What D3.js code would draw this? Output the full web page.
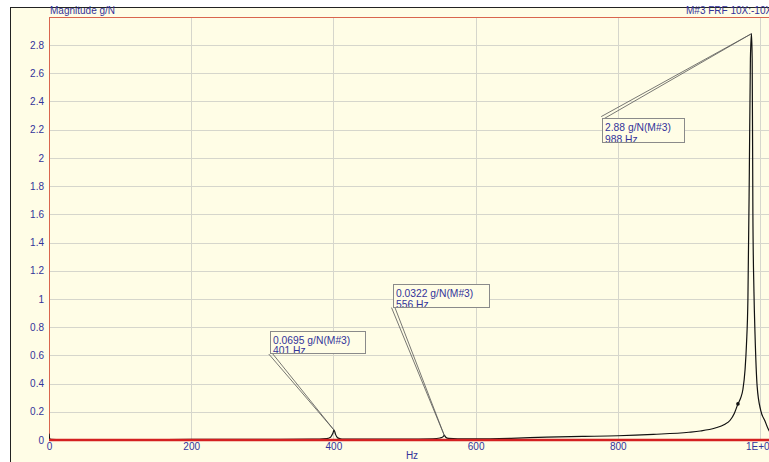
<!DOCTYPE html>
<html>
<head>
<meta charset="utf-8">
<script src="https://cdn.jsdelivr.net/npm/d3@7"></script>
<style>
  html, body { margin: 0; padding: 0; background: #ffffff; overflow: hidden; }
  text { font-family: "Liberation Sans", Arial, sans-serif; }
</style>
</head>
<body>
<svg id="chart" width="769" height="462"></svg>
<script>
// FRF magnitude trace (black)
const freq = [0, 1, 3, 10, 50, 100, 200, 300, 370, 390, 396, 399, 401, 403, 406, 412, 430, 500, 540, 550, 554, 556, 558, 562, 575, 600, 650, 700, 750, 800, 850, 900, 916, 937, 950, 958, 964, 969, 973, 976, 979, 981, 983, 985, 986.5, 988, 989, 990, 991.5, 993, 996, 1001, 1007, 1013, 1016];
const mag  = [0.045, 0.01, 0.004, 0.003, 0.003, 0.003, 0.004, 0.005, 0.006, 0.01, 0.02, 0.045, 0.0695, 0.04, 0.015, 0.007, 0.006, 0.006, 0.008, 0.014, 0.022, 0.0322, 0.02, 0.011, 0.008, 0.008, 0.012, 0.02, 0.025, 0.03, 0.04, 0.055, 0.064, 0.085, 0.11, 0.14, 0.19, 0.256, 0.3, 0.36, 0.5, 0.68, 1.0, 1.9, 2.7, 2.88, 2.7, 1.6, 1.05, 0.75, 0.38, 0.21, 0.135, 0.064, 0.05];

// second trace (red), flat on zero
const redFreq = [0, 1016];
const redMag  = [0, 0];

// peak markers
const markFreq = [401, 556, 988];
const markMag  = [0.0695, 0.0322, 2.88];
const markLine1 = ["0.0695 g/N(M#3)", "0.0322 g/N(M#3)", "2.88 g/N(M#3)"];
const markLine2 = ["401 Hz", "556 Hz", "988 Hz"];

// axes
const xTicks = [0, 200, 400, 600, 800, 1000];
const xTickLabels = ["0", "200", "400", "600", "800", "1E+03"];
const yTicks = [0, 0.2, 0.4, 0.6, 0.8, 1, 1.2, 1.4, 1.6, 1.8, 2, 2.2, 2.4, 2.6, 2.8];

// label box placement (pixels) and which corner the leader leaves from
const boxes = [
  { x: 270, y: 331, w: 95, h: 22, corner: "bl" },
  { x: 393, y: 284, w: 96, h: 23, corner: "bl" },
  { x: 602, y: 118, w: 82, h: 24, corner: "tl" }
];

const blue = "#33339a";
const cream = "#fffde6";
const plotLeft = 49, plotTop = 17, plotBottom = 440, plotRight = 769;

const svg = d3.select("#chart");

const x = d3.scaleLinear().domain([0, 1000]).range([plotLeft, 760]);
const y = d3.scaleLinear().domain([0, 3]).range([plotBottom, plotBottom - 3 * 141.07]);

// outer frame
svg.append("rect")
  .attr("x", 10.5).attr("y", 7.5)
  .attr("width", 800).attr("height", 500)
  .attr("fill", cream).attr("stroke", "#222").attr("stroke-width", 1);

// grid
svg.append("g")
  .selectAll("line")
  .data(yTicks.filter(d => d > 0))
  .enter()
  .append("line")
  .attr("x1", plotLeft).attr("x2", plotRight)
  .attr("y1", d => Math.round(y(d)) + 0.5)
  .attr("y2", d => Math.round(y(d)) + 0.5)
  .attr("stroke", "#d6d6cc");

svg.append("g")
  .selectAll("line")
  .data(xTicks.filter(d => d > 0))
  .enter()
  .append("line")
  .attr("x1", d => Math.round(x(d)) + 0.5)
  .attr("x2", d => Math.round(x(d)) + 0.5)
  .attr("y1", plotTop).attr("y2", plotBottom)
  .attr("stroke", "#d6d6cc");

// plot frame (red)
svg.append("line")
  .attr("x1", plotLeft).attr("x2", plotRight)
  .attr("y1", plotTop + 0.5).attr("y2", plotTop + 0.5)
  .attr("stroke", "#d9654e");
svg.append("line")
  .attr("x1", plotLeft + 0.5).attr("x2", plotLeft + 0.5)
  .attr("y1", plotTop).attr("y2", plotBottom)
  .attr("stroke", "#d9654e");

// y axis labels
const yAxis = d3.axisLeft(y)
  .tickValues(yTicks)
  .tickSize(0)
  .tickPadding(5)
  .tickFormat(d => String(+d.toFixed(1)));

const gy = svg.append("g")
  .attr("transform", "translate(" + plotLeft + ",0)")
  .call(yAxis);
gy.select(".domain").remove();
gy.selectAll("text")
  .attr("fill", blue)
  .style("font-size", "10px")
  .style("font-family", "Liberation Sans, Arial, sans-serif");

// x axis labels
const xAxis = d3.axisBottom(x)
  .tickValues(xTicks)
  .tickSize(0)
  .tickPadding(3)
  .tickFormat((d, i) => xTickLabels[i]);

const gx = svg.append("g")
  .attr("transform", "translate(0," + plotBottom + ")")
  .call(xAxis);
gx.select(".domain").remove();
gx.selectAll("text")
  .attr("fill", blue)
  .style("font-size", "10px")
  .style("font-family", "Liberation Sans, Arial, sans-serif");

svg.append("text")
  .attr("x", 412).attr("y", 459)
  .attr("text-anchor", "middle")
  .attr("fill", blue)
  .style("font-size", "10px")
  .text("Hz");

// titles
svg.append("text")
  .attr("x", 50).attr("y", 14)
  .attr("fill", blue)
  .style("font-size", "10px")
  .text("Magnitude g/N");

svg.append("text")
  .attr("x", 686).attr("y", 14)
  .attr("fill", blue)
  .style("font-size", "10px")
  .text("M#3 FRF 10X:-10X");

// traces
svg.append("clipPath").attr("id", "plotClip")
  .append("rect")
  .attr("x", plotLeft).attr("y", plotTop)
  .attr("width", plotRight - plotLeft).attr("height", plotBottom - plotTop + 3);

const plot = svg.append("g").attr("clip-path", "url(#plotClip)");

const line = d3.line()
  .x(d => x(d[0]))
  .y(d => y(d[1]))
  .curve(d3.curveMonotoneX);

plot.append("path")
  .datum(freq.map((f, i) => [f, mag[i]]))
  .attr("d", line)
  .attr("fill", "none")
  .attr("stroke", "#111")
  .attr("stroke-width", 1.2);

plot.append("path")
  .datum(redFreq.map((f, i) => [f, redMag[i]]))
  .attr("d", line)
  .attr("fill", "none")
  .attr("stroke", "#d42020")
  .attr("stroke-width", 2.6);

// marker dot on the rising flank
plot.append("circle")
  .attr("cx", x(969)).attr("cy", y(0.256))
  .attr("r", 1.8)
  .attr("fill", "#111");

// peak labels with double leader lines
const marks = markFreq.map((f, i) => ({ f: f, m: markMag[i], t1: markLine1[i], t2: markLine2[i], b: boxes[i] }));

const mg = svg.append("g")
  .selectAll("g")
  .data(marks)
  .enter()
  .append("g");

mg.append("path")
  .attr("d", d => {
    const px = x(d.f), py = y(d.m);
    const cx = d.b.x, cy = d.b.corner === "tl" ? d.b.y : d.b.y + d.b.h;
    const dx = px - cx, dy = py - cy;
    const len = Math.sqrt(dx * dx + dy * dy);
    const nx = -dy / len * 1.6, ny = dx / len * 1.6;
    return "M" + (cx - nx) + "," + (cy - ny) + "L" + px + "," + py + "L" + (cx + nx) + "," + (cy + ny);
  })
  .attr("fill", "none")
  .attr("stroke", "#555")
  .attr("stroke-width", 0.8);

mg.append("clipPath")
  .attr("id", (d, i) => "boxClip" + i)
  .append("rect")
  .attr("x", d => d.b.x).attr("y", d => d.b.y)
  .attr("width", d => d.b.w).attr("height", d => d.b.h);

mg.append("rect")
  .attr("x", d => d.b.x + 0.5).attr("y", d => d.b.y + 0.5)
  .attr("width", d => d.b.w).attr("height", d => d.b.h)
  .attr("fill", cream)
  .attr("stroke", "#8a8a8a");

const tg = mg.append("g").attr("clip-path", (d, i) => "url(#boxClip" + i + ")");

tg.append("text")
  .attr("x", d => d.b.x + 3).attr("y", d => d.b.y + 12.5)
  .attr("fill", blue)
  .style("font-size", "10.3px")
  .text(d => d.t1);

tg.append("text")
  .attr("x", d => d.b.x + 3).attr("y", d => d.b.y + d.b.h + 1)
  .attr("fill", blue)
  .style("font-size", "10.3px")
  .text(d => d.t2);
</script>
</body>
</html>
